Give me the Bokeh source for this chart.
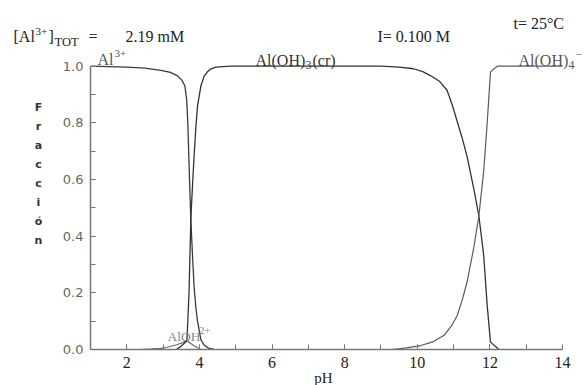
from bokeh.plotting import figure
from bokeh.models import Range1d, Label, SingleIntervalTicker, PrintfTickFormatter
from bokeh.embed import file_html
from bokeh.resources import INLINE

# ---- data ----
ph_al3 = [1.0, 2.0, 2.5, 2.94, 3.2, 3.4, 3.52, 3.6, 3.65, 3.68, 3.72, 3.763, 3.81, 3.854, 3.9, 3.948, 4.04, 4.13, 4.25, 4.4]
fr_al3 = [1.0, 0.997, 0.993, 0.985, 0.978, 0.966, 0.95, 0.93, 0.88, 0.80, 0.63, 0.46, 0.33, 0.22, 0.15, 0.10, 0.035, 0.015, 0.005, 0.0]

ph_aloh = [2.386, 2.7, 2.937, 3.1, 3.303, 3.5, 3.653, 3.75, 3.854, 3.95, 4.04]
fr_aloh = [0.0, 0.002, 0.004, 0.008, 0.014, 0.022, 0.032, 0.022, 0.013, 0.006, 0.0]

ph_aloh3 = [3.36, 3.5, 3.653, 3.68, 3.716, 3.763, 3.81, 3.854, 3.9, 3.948, 4.04, 4.13, 4.22, 4.31, 4.45, 4.86,
            6.0, 8.0, 9.0, 9.5, 9.9, 10.15, 10.36, 10.6, 10.82, 10.96, 11.10, 11.24, 11.375, 11.557, 11.695,
            11.83, 11.926, 12.017, 12.25]
fr_aloh3 = [0.0, 0.012, 0.03, 0.1, 0.21, 0.46, 0.58, 0.685, 0.78, 0.86, 0.93, 0.965, 0.98, 0.99, 0.997, 1.0,
            1.0, 1.0, 1.0, 0.997, 0.991, 0.981, 0.967, 0.948, 0.915, 0.865, 0.805, 0.745, 0.68, 0.567, 0.473,
            0.332, 0.155, 0.026, 0.0]

ph_aloh4 = [9.3, 9.7, 10.1, 10.45, 10.74, 10.95, 11.10, 11.24, 11.375, 11.557, 11.695, 11.83, 11.926, 12.017, 12.2, 14.0]
fr_aloh4 = [0.0, 0.006, 0.014, 0.028, 0.05, 0.085, 0.12, 0.175, 0.24, 0.36, 0.47, 0.63, 0.80, 0.98, 1.0, 1.0]

x_lo, x_hi = 1, 14
y_lo, y_hi = 0.0, 1.0

W, H = 588, 385
# where the axes sit in the picture (pixels)
AX_LEFT, AX_RIGHT = 90, 562
AX_BOTTOM, AX_TOP = 349, 65.7

def dx(px):
    return x_lo + (px - AX_LEFT) * (x_hi - x_lo) / (AX_RIGHT - AX_LEFT)
def dy(py):
    return y_lo + (AX_BOTTOM - py) * (y_hi - y_lo) / (AX_BOTTOM - AX_TOP)

p = figure(width=W, height=H, output_backend="svg", toolbar_location=None,
           x_range=Range1d(dx(0), dx(W)), y_range=Range1d(dy(H), dy(0)),
           min_border_left=0, min_border_right=0, min_border_top=0, min_border_bottom=0)
p.outline_line_color = None
p.xgrid.grid_line_color = None
p.ygrid.grid_line_color = None
p.background_fill_color = "white"
p.border_fill_color = "white"

p.line(ph_al3, fr_al3, line_color="#3a3a3a", line_width=1.3)
p.line(ph_aloh, fr_aloh, line_color="#6a6a6a", line_width=1.2)
p.line(ph_aloh3, fr_aloh3, line_color="#333333", line_width=1.3)
p.line(ph_aloh4, fr_aloh4, line_color="#5a5a5a", line_width=1.2)

axcol = "#777777"
p.xaxis.fixed_location = y_lo
p.yaxis.fixed_location = x_lo
p.xaxis.bounds = (x_lo, x_hi)
p.yaxis.bounds = (y_lo, y_hi)
for ax in (p.xaxis[0], p.yaxis[0]):
    ax.axis_line_color = axcol
    ax.axis_line_width = 1.5
    ax.major_tick_line_color = axcol
    ax.minor_tick_line_color = axcol
    ax.major_tick_line_width = 1
    ax.minor_tick_line_width = 1
    ax.major_tick_in = 5
    ax.major_tick_out = 0
    ax.minor_tick_in = 5
    ax.minor_tick_out = 0

p.xaxis.ticker = SingleIntervalTicker(interval=2, num_minor_ticks=2)
p.yaxis.ticker = SingleIntervalTicker(interval=0.2, num_minor_ticks=2)
p.yaxis.formatter = PrintfTickFormatter(format="%.1f")
p.xaxis.major_label_text_font = "Liberation Serif"
p.xaxis.major_label_text_font_size = "16px"
p.xaxis.major_label_text_color = "#222222"
p.xaxis.major_label_standoff = 7
p.yaxis.major_label_text_font = "DejaVu Sans"
p.yaxis.major_label_text_font_size = "13px"
p.yaxis.major_label_text_color = "#666666"
p.yaxis.major_label_standoff = 7

SERIF = "'Liberation Serif', 'DejaVu Serif', serif"

def lab(text, px, py, size, color="#222222", font=SERIF, style="normal", align="left", baseline="alphabetic"):
    p.add_layout(Label(x=dx(px), y=dy(py), text=text, text_font=font, text_font_size=size,
                       text_color=color, text_font_style=style, text_align=align,
                       text_baseline=baseline))

# header: [Al3+]TOT = 2.19 mM
lab("[Al", 13, 36, "16px")
lab("3+", 35, 31, "11px")
lab("]", 48, 36, "16px")
lab("TOT", 54, 41, "12.5px")
lab("=", 88, 36, "16px")
lab("2.19 mM", 125, 36, "16px")
lab("I= 0.100 M", 377, 36, "16px")
lab("t= 25°C", 513, 23, "16px")

# species labels
c1 = "#555555"
lab("Al", 97, 59, "16px", color=c1)
lab("3+", 114, 53, "11px", color=c1)

c2 = "#333333"
lab("Al(OH)", 255, 60, "16px", color=c2)
lab("3", 305, 64, "12px", color=c2)
lab("(cr)", 312, 60, "16px", color=c2)

c3 = "#555555"
lab("Al(OH)", 518, 60, "16px", color=c3)
lab("4", 568, 64, "12px", color=c3)
lab("−", 575, 54, "11px", color=c3)

c4 = "#888888"
lab("AlOH", 167, 336, "13.5px", color=c4)
lab("2+", 199, 330, "10px", color=c4)

# axis titles
lab("pH", 323, 385, "15px", color="#222222", align="center", baseline="bottom")
ylabel = "Fracción"
for i, ch in enumerate(ylabel):
    lab(ch, 38, 107 + 19 * i, "11px", color="#333333", font="'DejaVu Sans'", style="bold", align="center")

open("out.html", "w").write(file_html(p, INLINE))
